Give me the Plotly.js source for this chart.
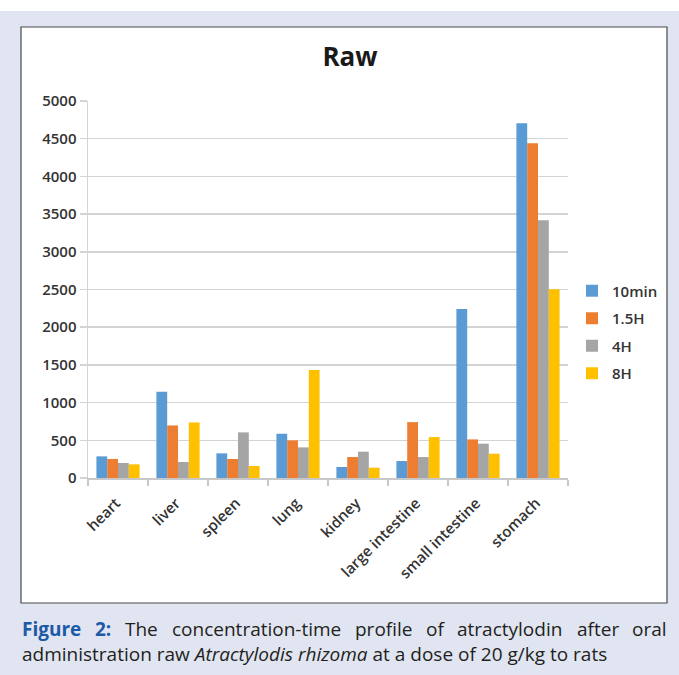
<!DOCTYPE html>
<html>
<head>
<meta charset="utf-8">
<script src="https://cdn.plot.ly/plotly-3.0.1.min.js"></script>
<style>
  html, body { margin: 0; padding: 0; background: #ffffff; }
  #chart { width: 679px; height: 675px; }
</style>
</head>
<body>
<div id="chart"></div>
<script>
// Atractylodin concentration by tissue, raw Atractylodis rhizoma
const tissues = ["heart", "liver", "spleen", "lung", "kidney", "large intestine", "small intestine", "stomach"];
const seriesNames = ["10min", "1.5H", "4H", "8H"];
const conc10min = [287, 1143, 327, 587, 146, 225, 2242, 4704];
const conc1_5H  = [252, 697, 252, 499, 278, 741, 512, 4439];
const conc4H    = [199, 212, 605, 406, 349, 278, 455, 3420];
const conc8H    = [181, 737, 159, 1434, 137, 543, 322, 2502];
const yTicks = [0, 500, 1000, 1500, 2000, 2500, 3000, 3500, 4000, 4500, 5000];

const chartTitle = "Raw";
const captionLine1 = ["Figure", "2:", "The", "concentration-time", "profile", "of", "atractylodin", "after", "oral"];
const captionLine2 = "administration raw <i>Atractylodis rhizoma</i> at a dose of 20 g/kg to rats";

const colors = ["#5b9bd5", "#ed7d31", "#a5a5a5", "#ffc000"];
const values = [conc10min, conc1_5H, conc4H, conc8H];

// page geometry (pixels)
const W = 679, H = 675;
const plotL = 88, plotR = 568, plotT = 101, plotB = 478;
const pw = plotR - plotL, ph = plotB - plotT;
const px2x = p => (p - plotL) / pw;
const px2y = p => (plotB - p) / ph;

const traces = seriesNames.map((name, i) => ({
  type: "bar",
  name: name,
  x: tissues,
  y: values[i],
  marker: { color: colors[i], line: { width: 0 } },
  legendgroup: "g" + i,
  hoverinfo: "x+y+name"
}));

// caption: first line justified across the box width
const capFont = "Open Sans";
const capSize = 19;
const ctx = document.createElement("canvas").getContext("2d");
function wordWidth(w, bold) {
  ctx.font = (bold ? "bold " : "") + capSize + "px '" + capFont + "'";
  return ctx.measureText(w).width;
}
const capLeft = 21, capRight = 666;
const boldWords = 2;
const widths = captionLine1.map((w, i) => wordWidth(w, i < boldWords));
const totalW = widths.reduce((a, b) => a + b, 0);
const gap = (capRight - capLeft - totalW) / (captionLine1.length - 1);

const annotations = [];
let cx = capLeft;
captionLine1.forEach((w, i) => {
  const isBold = i < boldWords;
  annotations.push({
    xref: "paper", yref: "paper",
    x: px2x(cx), y: px2y(629),
    xanchor: "left", yanchor: "middle",
    text: isBold ? "<b>" + w + "</b>" : w,
    showarrow: false,
    borderpad: 0,
    font: { family: capFont, size: capSize, color: isBold ? "#1c5aa6" : "#231f20" }
  });
  cx += widths[i] + gap;
});
annotations.push({
  xref: "paper", yref: "paper",
  x: px2x(capLeft), y: px2y(654),
  xanchor: "left", yanchor: "middle",
  text: captionLine2,
  showarrow: false,
  borderpad: 0,
  font: { family: capFont, size: capSize, color: "#231f20" }
});

const tickFont = { family: "Open Sans", size: 15, color: "#333333", weight: 600 };

const layout = {
  width: W, height: H,
  margin: { l: plotL, r: W - plotR, t: plotT, b: H - plotB, pad: 0 },
  paper_bgcolor: "#e1e5f2",
  plot_bgcolor: "rgba(0,0,0,0)",
  font: { family: "Open Sans", color: "#404040" },
  title: {
    text: "<b>" + chartTitle + "</b>",
    xref: "paper", x: px2x(350), xanchor: "center",
    yref: "container", y: 1 - 57 / H, yanchor: "middle",
    font: { family: "Open Sans", size: 26, color: "#1a1a1a" }
  },
  barmode: "group",
  bargap: 0.28,
  bargroupgap: 0,
  xaxis: {
    type: "category",
    tickangle: -45,
    tickson: "boundaries",
    ticks: "outside", ticklen: 6, tickcolor: "#c8c8c8", tickwidth: 1.5,
    ticklabelstandoff: 9,
    ticklabelshift: -2,
    showline: true, linecolor: "#c8c8c8", linewidth: 1.5,
    showgrid: false,
    tickfont: tickFont,
    fixedrange: true
  },
  yaxis: {
    range: [0, 5000],
    tickvals: yTicks,
    ticktext: yTicks.map(String),
    ticks: "outside", ticklen: 7, tickcolor: "#d4d4d4", tickwidth: 1.5,
    showline: true, linecolor: "#d4d4d4", linewidth: 1.5,
    showgrid: true, gridcolor: "#d4d4d4", gridwidth: 1.5,
    zeroline: false,
    tickfont: tickFont,
    fixedrange: true
  },
  showlegend: true,
  legend: {
    x: px2x(572), xanchor: "left",
    y: px2y(332), yanchor: "middle",
    bgcolor: "rgba(0,0,0,0)",
    font: { family: "Open Sans", size: 15, color: "#333333", weight: 600 },
    traceorder: "grouped",
    tracegroupgap: 5
  },
  shapes: [
    // white strip along the top of the page
    { type: "rect", xref: "paper", yref: "paper", layer: "below",
      x0: px2x(0), x1: px2x(W), y0: px2y(0), y1: px2y(11),
      fillcolor: "#ffffff", line: { width: 0 } },
    // chart frame
    { type: "rect", xref: "paper", yref: "paper", layer: "below",
      x0: px2x(21), x1: px2x(667), y0: px2y(27), y1: px2y(603),
      fillcolor: "#ffffff", line: { color: "#4a4a4a", width: 1.2 } }
  ],
  annotations: annotations
};

Plotly.newPlot("chart", traces, layout, { displayModeBar: false, staticPlot: true });
</script>
</body>
</html>
